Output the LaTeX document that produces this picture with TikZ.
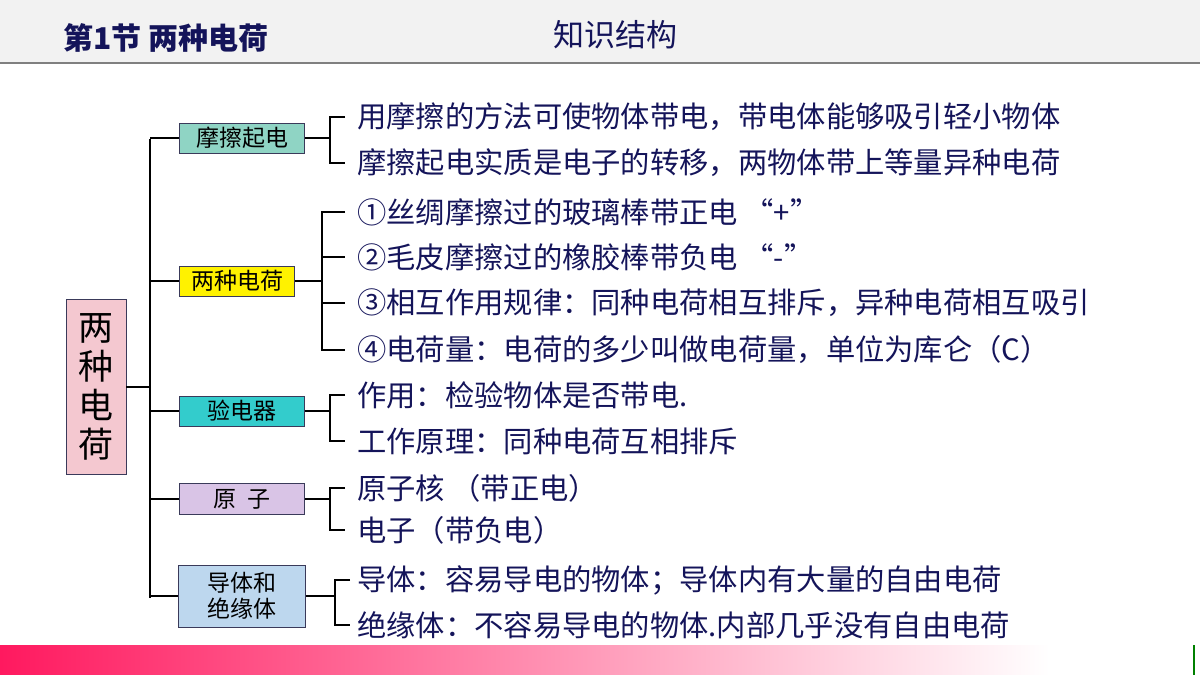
\documentclass[tikz,border=0pt]{standalone}
\usepackage{fontspec}
\newfontfamily\cjk{Noto Sans CJK SC}
\newfontfamily\cjkb{Noto Sans CJK SC Black}
\definecolor{navy}{HTML}{14145A}
\definecolor{boxline}{HTML}{3A3A5A}
\tikzset{
 lbl/.style={anchor=west,inner sep=0pt,text=navy,font=\cjk\fontsize{29.3}{31}\selectfont},
 cat/.style={draw=boxline,line width=0.8pt,inner sep=0pt,text=black,font=\cjk\fontsize{23}{26}\selectfont,align=center},
 ln/.style={line width=2pt,black}
}
\begin{document}
\begin{tikzpicture}[x=1pt,y=-1pt]
\useasboundingbox (0,0) rectangle (1200,675);
\fill[white] (0,0) rectangle (1200,675);
\fill[gray!10] (0,0) rectangle (1200,62);
\draw[gray,line width=2pt] (0,63) -- (1200,63);
\node[anchor=west,text=navy,font=\cjkb\fontsize{30}{32}\selectfont] (t1) at (60,38) {第1节 两种电荷};
\node[text=navy,font=\cjk\fontsize{31}{33}\selectfont] (t2) at (615,35) {知识结构};
\shade[left color={rgb,255:red,255;green,25;blue,95},right color=white] (0,645) rectangle (1050,675);
\fill[white] (1050,645) rectangle (1200,675);
\draw[green!50!black,line width=2pt] (1194,645) -- (1194,675);
% main
\node[cat,fill={rgb,255:red,244;green,200;blue,208},minimum width=60pt,minimum height=175pt,font=\cjk\fontsize{35}{39}\selectfont] (m) at (96,387) {两\\种\\电\\荷};
\coordinate (tr) at (150,387);
\draw[ln] (m.east) -- (tr);
\draw[ln] (150,139) -- (150,598);
% categories
\node[cat,fill={rgb,255:red,143;green,212;blue,196},minimum width=125pt,minimum height=30pt] (c1) at (242,138) {摩擦起电};
\node[cat,fill=yellow,minimum width=115pt,minimum height=30pt] (c2) at (237,281) {两种电荷};
\node[cat,fill={rgb,255:red,51;green,204;blue,204},minimum width=125pt,minimum height=30pt] (c3) at (242,411) {验电器};
\node[cat,fill={rgb,255:red,217;green,196;blue,230},minimum width=125pt,minimum height=31pt] (c4) at (242,499) {原\ \ 子};
\node[cat,fill={rgb,255:red,189;green,215;blue,238},minimum width=127pt,minimum height=62pt] (c5) at (242,596) {导体和\\绝缘体};
\foreach \c in {c1,c2,c3,c4,c5} \draw[ln] (150,0 |- \c.west) -- (\c.west);
% leaves
\node[lbl] (a1) at (357,117) {用摩擦的方法可使物体带电，带电体能够吸引轻小物体};
\node[lbl] (a2) at (357,163) {摩擦起电实质是电子的转移，两物体带上等量异种电荷};
\node[lbl] (b1) at (357,212) {①丝绸摩擦过的玻璃棒带正电 “+”};
\node[lbl] (b2) at (357,257) {②毛皮摩擦过的橡胶棒带负电 “-”};
\node[lbl] (b3) at (357,303) {③相互作用规律：同种电荷相互排斥，异种电荷相互吸引};
\node[lbl] (b4) at (357,350) {④电荷量：电荷的多少叫做电荷量，单位为库仑（C）};
\node[lbl] (d1) at (357,395) {作用：检验物体是否带电.};
\node[lbl] (d2) at (357,441) {工作原理：同种电荷互相排斥};
\node[lbl] (e1) at (357,488) {原子核 （带正电）};
\node[lbl] (e2) at (357,530) {电子（带负电）};
\node[lbl] (f1) at (357,580) {导体：容易导电的物体；导体内有大量的自由电荷};
\node[lbl] (f2) at (357,625) {绝缘体：不容易导电的物体.内部几乎没有自由电荷};
% brackets
\tikzset{brk/.style={line width=1.5pt,black}}
\draw[brk] (c1.east) -- (330,0 |- c1.east);
\draw[brk] (345,0 |- a1.west) -- (330,0 |- a1.west) -- (330,0 |- a2.west) -- (345,0 |- a2.west);
\draw[brk] (c2.east) -- (322,0 |- c2.east);
\draw[brk] (345,0 |- b1.west) -- (322,0 |- b1.west) -- (322,0 |- b4.west) -- (345,0 |- b4.west);
\foreach \n in {b2,b3} \draw[brk] (322,0 |- \n.west) -- (345,0 |- \n.west);
\draw[brk] (c3.east) -- (330,0 |- c3.east);
\draw[brk] (345,0 |- d1.west) -- (330,0 |- d1.west) -- (330,0 |- d2.west) -- (345,0 |- d2.west);
\draw[brk] (c4.east) -- (330,0 |- c4.east);
\draw[brk] (345,0 |- e1.west) -- (330,0 |- e1.west) -- (330,0 |- e2.west) -- (345,0 |- e2.west);
\draw[brk] (c5.east) -- (335,0 |- c5.east);
\draw[brk] (350,0 |- f1.west) -- (335,0 |- f1.west) -- (335,0 |- f2.west) -- (350,0 |- f2.west);
\end{tikzpicture}
\end{document}
